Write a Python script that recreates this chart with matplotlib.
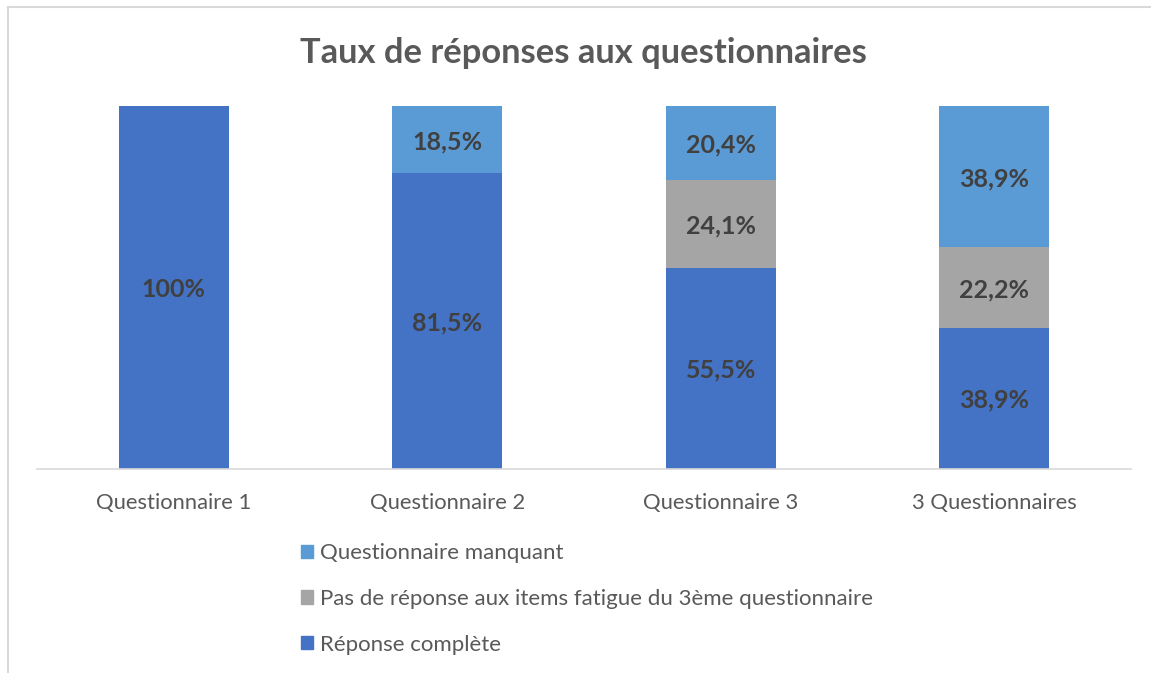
import matplotlib
matplotlib.use('Agg')
import matplotlib.pyplot as plt
from matplotlib.patches import Patch
from matplotlib.lines import Line2D
import numpy as np

plt.rcParams['font.family'] = ['Lato', 'DejaVu Sans']

# données
categories = ['Questionnaire 1', 'Questionnaire 2', 'Questionnaire 3', '3 Questionnaires']
complete = [100, 81.5, 55.5, 38.9]
pas_reponse = [0, 0, 24.1, 22.2]
manquant = [0, 18.5, 20.4, 38.9]
noms = ['Réponse complète', 'Pas de réponse aux items fatigue du 3ème questionnaire',
        'Questionnaire manquant']
couleurs = ['#4472C4', '#A5A5A5', '#5B9BD5']


def fmt(v):
    if float(v).is_integer():
        return '%d%%' % v
    return ('%.1f%%' % v).replace('.', ',')


fig = plt.figure(figsize=(11.51, 6.73), dpi=100)
ax = fig.add_axes([0.0321, 0.3031, 0.9505, 0.5394])

x = np.arange(len(categories))
bas = np.zeros(len(categories))
for vals, nom, c in zip([complete, pas_reponse, manquant], noms, couleurs):
    vals = np.array(vals, dtype=float)
    ax.bar(x, vals, width=0.402, bottom=bas, color=c, label=nom)
    for xi, b, v in zip(x, bas, vals):
        if v > 0:
            ax.text(xi, b + v / 2, fmt(v), ha='center', va='center_baseline',
                    fontsize=18, fontweight='bold', color='#404040')
    bas += vals

ax.set_xlim(-0.5, 3.5)
ax.set_ylim(0, 100)
ax.set_yticks([])
ax.set_xticks(x)
ax.set_xticklabels(categories, fontsize=15.8, color='#595959')
ax.tick_params(axis='x', length=0, pad=17)
for s in ['left', 'top', 'right']:
    ax.spines[s].set_visible(False)
ax.spines['bottom'].set_color('#D9D9D9')
ax.spines['bottom'].set_linewidth(1.2)

fig.text(0.507, 0.921, 'Taux de réponses aux questionnaires', ha='center', va='center',
         fontsize=24.8, fontweight='bold', color='#595959')

handles = [Patch(color=couleurs[i], label=noms[i]) for i in [2, 1, 0]]
leg = fig.legend(handles=handles, loc='upper left', bbox_to_anchor=(0.252, 0.209),
                 frameon=False, fontsize=16, handlelength=0.55, handleheight=0.55,
                 handletextpad=0.3, labelspacing=1.15, borderpad=0)
for t in leg.get_texts():
    t.set_color('#595959')

# cadre du graphique
fig.add_artist(Line2D([8 / 1151, 8 / 1151], [0, 1 - 7 / 673], transform=fig.transFigure,
                      color='#D9D9D9', lw=1.5))
fig.add_artist(Line2D([8 / 1151, 1], [1 - 7 / 673, 1 - 7 / 673], transform=fig.transFigure,
                      color='#D9D9D9', lw=1.5))

fig.savefig('out.png', dpi=100)
